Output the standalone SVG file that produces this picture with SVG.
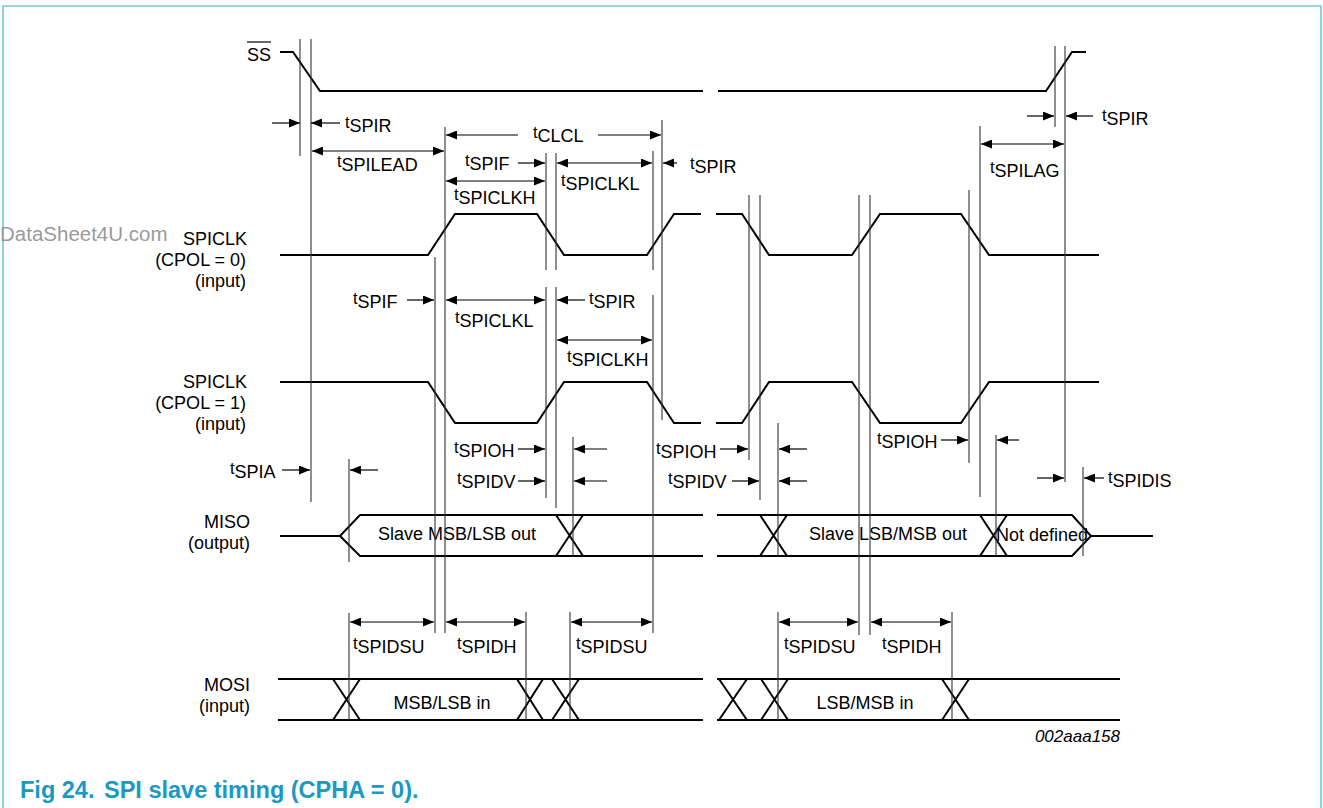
<svg xmlns="http://www.w3.org/2000/svg" width="1323" height="808" viewBox="0 0 1323 808">
<style>
.sig{fill:none;stroke:#000;stroke-width:2;stroke-linejoin:miter}
.v{fill:none;stroke:#333;stroke-width:1.1}
.ar{fill:none;stroke:#000;stroke-width:1.2}
text{font-family:"Liberation Sans",Arial,Helvetica,sans-serif;font-size:18px;fill:#000}
.ts{font-size:16.5px}
.end{text-anchor:end}
.mid{text-anchor:middle}
.cap{font-weight:bold;font-size:23.5px;fill:#1a99c5}
.wm{fill:#9a9a9a;font-size:20.5px}
.id{font-style:italic;font-size:17px}
</style>
<defs>
<marker id="ah" viewBox="0 0 11 9" refX="11" refY="4.5" markerWidth="11" markerHeight="9" markerUnits="userSpaceOnUse" orient="auto-start-reverse">
<path d="M0,0 L11,4.5 L0,9 z" fill="#000"/>
</marker>
</defs>
<rect width="1323" height="808" fill="#fff"/>
<path d="M3,808 V6 H1321 V808" fill="none" stroke="#74c6de" stroke-width="1.6"/>
<text class="wm" x="0" y="241">DataSheet4U.com</text>

<g id="ss">
<text x="247" y="61" font-size="17.5">SS</text>
<line x1="247" y1="42" x2="271" y2="42" stroke="#000" stroke-width="1.2"/>
<path class="sig" d="M280,52 H293 L320,91 H703 M718,91 H1046 L1072,52 H1086"/>
</g>

<g id="spiclk0">
<text class="end" x="247" y="245">SPICLK</text>
<text class="end" x="246" y="266">(CPOL = 0)</text>
<text class="end" x="246" y="287">(input)</text>
<path class="sig" d="M280,255 H428 L455,214 H537 L564,255 H647 L674,214 H701 M716,214 H742 L769,255 H852 L880,214 H961 L989,255 H1099"/>
</g>

<g id="spiclk1">
<text class="end" x="247" y="388">SPICLK</text>
<text class="end" x="246" y="409">(CPOL = 1)</text>
<text class="end" x="246" y="430">(input)</text>
<path class="sig" d="M280,382 H428 L455,423 H537 L564,382 H647 L674,423 H701 M716,423 H742 L769,382 H852 L880,423 H961 L989,382 H1099"/>
</g>

<g id="miso">
<text class="end" x="250" y="528">MISO</text>
<text class="end" x="250" y="549">(output)</text>
<path class="sig" d="M280,536 H340 L360,515 H703 M340,536 L360,556 H703 M717,515 H1072 L1091,536 L1072,556 H717 M1091,536 H1153"/>
<path class="sig" d="M556,515 L583,556 M583,515 L556,556 M760,515 L787,556 M787,515 L760,556 M980,515 L1007,556 M1007,515 L980,556"/>
<text class="mid" x="457" y="540">Slave MSB/LSB out</text>
<text class="mid" x="888" y="540">Slave LSB/MSB out</text>
<text class="mid" x="1042" y="541">Not defined</text>
</g>

<g id="mosi">
<text class="end" x="250" y="691">MOSI</text>
<text class="end" x="250" y="712">(input)</text>
<path class="sig" d="M278,679 H703 M278,720 H703 M717,679 H1120 M717,720 H1120"/>
<path class="sig" d="M333,679 L360,720 M360,679 L333,720 M517,679 L543,720 M543,679 L517,720 M552,679 L579,720 M579,679 L552,720 M719,679 L747,720 M747,679 L719,720 M761,679 L788,720 M788,679 L761,720 M942,679 L969,720 M969,679 L942,720"/>
<text class="mid" x="442" y="709">MSB/LSB in</text>
<text class="mid" x="865" y="709">LSB/MSB in</text>
</g>

<g id="refs">
<path class="v" d="M300,39 V156 M311,39 V502 M435,257 V633 M445,127 V633 M546,153 V270 M546,287 V498 M556,153 V270 M556,287 V508 M573,437 V555 M653,151 V270 M653,295 V633 M662,120 V420 M749,195 V460 M760,195 V500 M778,423 V556 M778,612 V720 M859,195 V635 M870,195 V635 M969,190 V463 M980,126 V497 M996,435 V556 M1055,46 V127 M1065,46 V482 M1083,467 V556 M349,459 V562 M349,613 V720 M526,612 V720 M570,612 V720 M952,612 V720"/>
</g>

<g id="connectors">
<g class="ar" marker-end="url(#ah)">
<line x1="272" y1="123" x2="300" y2="123"/>
<line x1="340" y1="123" x2="311" y2="123"/>
<line x1="518" y1="135" x2="446" y2="135"/>
<line x1="598" y1="135" x2="661" y2="135"/>
<line x1="518" y1="163" x2="545" y2="163"/>
<line x1="677" y1="163" x2="663" y2="163"/>
<line x1="1027" y1="116" x2="1054" y2="116"/>
<line x1="1093" y1="116" x2="1066" y2="116"/>
<line x1="407" y1="300" x2="434" y2="300"/>
<line x1="585" y1="300" x2="557" y2="300"/>
<line x1="282" y1="470" x2="310" y2="470"/>
<line x1="378" y1="470" x2="350" y2="470"/>
<line x1="518" y1="449" x2="545" y2="449"/>
<line x1="607" y1="449" x2="574" y2="449"/>
<line x1="518" y1="481" x2="545" y2="481"/>
<line x1="607" y1="481" x2="574" y2="481"/>
<line x1="720" y1="449" x2="748" y2="449"/>
<line x1="807" y1="449" x2="779" y2="449"/>
<line x1="732" y1="481" x2="759" y2="481"/>
<line x1="807" y1="481" x2="779" y2="481"/>
<line x1="941" y1="440" x2="968" y2="440"/>
<line x1="1019" y1="440" x2="997" y2="440"/>
<line x1="1037" y1="478" x2="1064" y2="478"/>
<line x1="1104" y1="478" x2="1084" y2="478"/>
</g>
<g class="ar" marker-start="url(#ah)" marker-end="url(#ah)">
<line x1="312" y1="151" x2="444" y2="151"/>
<line x1="557" y1="163" x2="652" y2="163"/>
<line x1="446" y1="181" x2="545" y2="181"/>
<line x1="981" y1="144" x2="1064" y2="144"/>
<line x1="446" y1="300" x2="545" y2="300"/>
<line x1="557" y1="340" x2="652" y2="340"/>
<line x1="350" y1="622" x2="434" y2="622"/>
<line x1="446" y1="622" x2="525" y2="622"/>
<line x1="571" y1="622" x2="652" y2="622"/>
<line x1="779" y1="622" x2="858" y2="622"/>
<line x1="871" y1="622" x2="951" y2="622"/>
</g>
</g>

<g id="labels">
<text x="345" y="132"><tspan class="ts" dy="-4">t</tspan><tspan dy="4">SPIR</tspan></text>
<text x="337" y="171"><tspan class="ts" dy="-4">t</tspan><tspan dy="4">SPILEAD</tspan></text>
<text x="533" y="142"><tspan class="ts" dy="-4">t</tspan><tspan dy="4">CLCL</tspan></text>
<text x="465" y="170"><tspan class="ts" dy="-4">t</tspan><tspan dy="4">SPIF</tspan></text>
<text x="454" y="204"><tspan class="ts" dy="-4">t</tspan><tspan dy="4">SPICLKH</tspan></text>
<text x="561" y="190"><tspan class="ts" dy="-4">t</tspan><tspan dy="4">SPICLKL</tspan></text>
<text x="690" y="173"><tspan class="ts" dy="-4">t</tspan><tspan dy="4">SPIR</tspan></text>
<text x="990" y="177"><tspan class="ts" dy="-4">t</tspan><tspan dy="4">SPILAG</tspan></text>
<text x="1102" y="125"><tspan class="ts" dy="-4">t</tspan><tspan dy="4">SPIR</tspan></text>
<text x="353" y="308"><tspan class="ts" dy="-4">t</tspan><tspan dy="4">SPIF</tspan></text>
<text x="455" y="327"><tspan class="ts" dy="-4">t</tspan><tspan dy="4">SPICLKL</tspan></text>
<text x="589" y="308"><tspan class="ts" dy="-4">t</tspan><tspan dy="4">SPIR</tspan></text>
<text x="567" y="366"><tspan class="ts" dy="-4">t</tspan><tspan dy="4">SPICLKH</tspan></text>
<text x="230" y="478"><tspan class="ts" dy="-4">t</tspan><tspan dy="4">SPIA</tspan></text>
<text x="454" y="457"><tspan class="ts" dy="-4">t</tspan><tspan dy="4">SPIOH</tspan></text>
<text x="457" y="488"><tspan class="ts" dy="-4">t</tspan><tspan dy="4">SPIDV</tspan></text>
<text x="656" y="458"><tspan class="ts" dy="-4">t</tspan><tspan dy="4">SPIOH</tspan></text>
<text x="668" y="488"><tspan class="ts" dy="-4">t</tspan><tspan dy="4">SPIDV</tspan></text>
<text x="877" y="448"><tspan class="ts" dy="-4">t</tspan><tspan dy="4">SPIOH</tspan></text>
<text x="1108" y="487"><tspan class="ts" dy="-4">t</tspan><tspan dy="4">SPIDIS</tspan></text>
<text x="353" y="653"><tspan class="ts" dy="-4">t</tspan><tspan dy="4">SPIDSU</tspan></text>
<text x="457" y="653"><tspan class="ts" dy="-4">t</tspan><tspan dy="4">SPIDH</tspan></text>
<text x="576" y="653"><tspan class="ts" dy="-4">t</tspan><tspan dy="4">SPIDSU</tspan></text>
<text x="784" y="653"><tspan class="ts" dy="-4">t</tspan><tspan dy="4">SPIDSU</tspan></text>
<text x="882" y="653"><tspan class="ts" dy="-4">t</tspan><tspan dy="4">SPIDH</tspan></text>
</g>

<text class="id end" x="1120" y="742">002aaa158</text>
<text class="cap" x="20" y="798">Fig 24.</text>
<text class="cap" x="104" y="798">SPI slave timing (CPHA = 0).</text>
</svg>
